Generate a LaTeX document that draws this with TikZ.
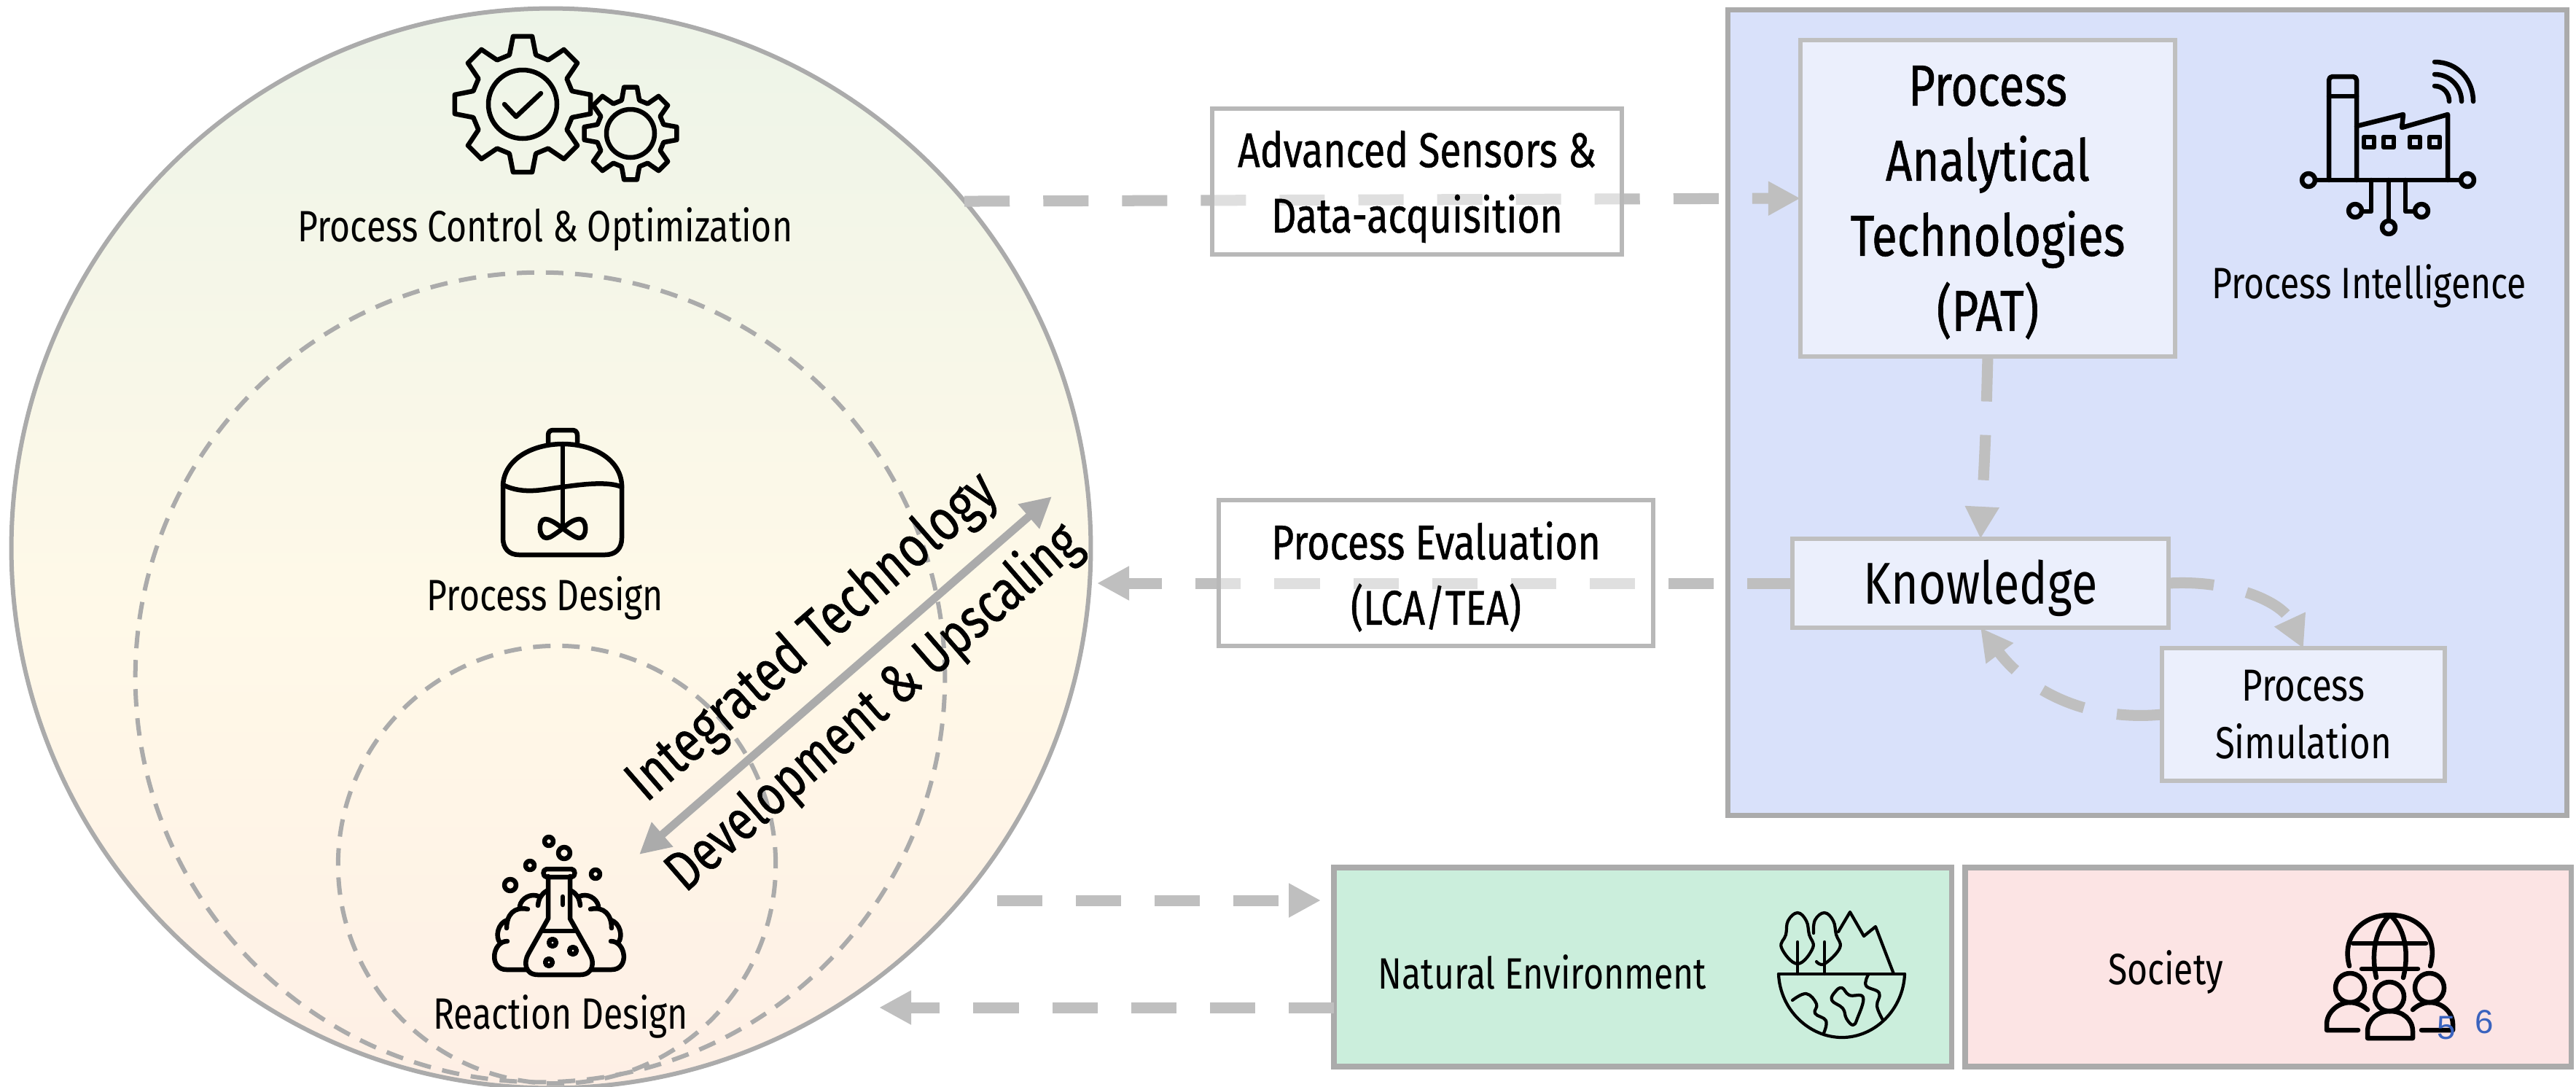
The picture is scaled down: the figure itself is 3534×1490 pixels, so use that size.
\documentclass[tikz,border=0pt]{standalone}
\usepackage{fontspec}
\setmainfont[FakeStretch=0.8]{Fira Sans}
\newfontfamily\medfont[FakeStretch=0.8,FakeBold=0.7]{Fira Sans}
\newfontfamily\numfont{Liberation Sans}
\usepackage{tikz}
\usetikzlibrary{calc}
\usetikzlibrary{arrows.meta}
\definecolor{edgegray}{RGB}{171, 171, 171}
\definecolor{linkgray}{RGB}{191, 191, 191}
\definecolor{leaf}{RGB}{237, 244, 232}
\definecolor{cream}{RGB}{255, 249, 232}
\definecolor{peach}{RGB}{254, 239, 229}
\definecolor{intelblue}{RGB}{217, 225, 250}
\definecolor{palebox}{RGB}{235, 239, 252}
\definecolor{natgreen}{RGB}{203, 238, 220}
\definecolor{socpink}{RGB}{252, 228, 228}
\definecolor{pagenum}{RGB}{58, 99, 190}
\pgfdeclareverticalshading{stagefade}{100bp}{color(0bp)=(peach); color(25bp)=(peach); color(47bp)=(cream); color(75bp)=(leaf); color(100bp)=(leaf)}
\tikzset{
    textsmall/.style={inner sep=0pt, align=center, font=\fontsize{17.1}{24}\selectfont},
    textmed/.style={inner sep=0pt, align=center, font=\medfont\fontsize{19}{25.5}\selectfont},
    bigbox/.style={draw=edgegray, line width=0.075cm, inner sep=0pt, outer sep=0pt},
    smallbox/.style={draw=linkgray, fill=palebox, line width=0.06cm, inner sep=0pt, outer sep=0pt},
    whitebox/.style={draw=edgegray!85, fill=white, fill opacity=0.5, text opacity=1, line width=0.06cm, inner sep=0pt, outer sep=0pt},
    dashring/.style={circle, draw=edgegray, line width=0.06cm, dash pattern=on 0.24cm off 0.16cm, inner sep=0pt, outer sep=0pt},
    linkline/.style={draw=linkgray, line width=0.15cm, dash pattern=on 0.62cm off 0.46cm, -{Triangle[length=0.44cm,width=0.44cm]}},
    iconline/.style={draw=black, line width=0.065cm, line join=round, line cap=round},
    iconthin/.style={draw=black, line width=0.042cm, line join=round, line cap=round},
}
\newcommand{\drawgear}[3]{%
    \draw[iconline] (75:#2) foreach \a in {90,135,...,405} { -- (\a-15:#2) -- (\a-8:#3) -- (\a+8:#3) -- (\a+15:#2) } -- cycle;
    \draw[iconline] (0,0) circle (#1);
}
\begin{document}
\begin{tikzpicture}[x=0.01cm, y=-0.01cm]
    \useasboundingbox (0,0) rectangle (3534,1490);
    % Large circle & nested stages
    \node[circle, draw=edgegray, line width=0.06cm, shade, shading=stagefade,
          minimum size=14.8cm, inner sep=0pt, outer sep=0pt] (bigcircle) at (756,752) {};
    \node[dashring, minimum size=11.1cm] (designring)   at (741, 929) {};
    \node[dashring, minimum size=6.0cm]  (reactionring) at (764,1186) {};
    \node[textsmall] (controltext)  at (748, 314) {Process Control \& Optimization};
    \node[textsmall] (designtext)   at (748, 820) {Process Design};
    \node[textsmall] (reactiontext) at (769,1394) {Reaction Design};
    % Process intelligence
    \node[bigbox, fill=intelblue, minimum width=11.5cm, minimum height=11.04cm] (intelbox) at (2946,566) {};
    \node[smallbox, font=\medfont\fontsize{22.6}{29.3}\selectfont, text depth=0pt, align=center, minimum width=5.14cm, minimum height=4.33cm] (pat) at (2727,272)
        {Process\\Analytical\\Technologies\\(PAT)};
    \node[smallbox, minimum width=5.16cm, minimum height=1.22cm] (knowledge) at (2717,800) {};
    \node[inner sep=0pt, font=\fontsize{23}{25}\selectfont] (knowledgetext) at (2717,807) {Knowledge};
    \node[smallbox, font=\fontsize{17.5}{22.5}\selectfont, align=center, minimum width=3.88cm, minimum height=1.81cm] (simulation) at (3160,980)
        {Process\\Simulation};
    \node[textsmall] (inteltext) at (3250,392) {Process Intelligence};
    % Boxes along the bottom
    \node[bigbox, fill=natgreen, minimum width=8.47cm, minimum height=2.73cm] (natural) at (2253.5,1326.5) {};
    \node[bigbox, fill=socpink,  minimum width=8.31cm, minimum height=2.73cm] (society) at (3111.5,1326.5) {};
    \node[textsmall] (naturaltext) at (2116,1333) {Natural Environment};
    \node[textsmall] (societytext) at (2971,1333) {Society};
    % Dashed links
    \coordinate (lowout)  at (1368,1235);
    \coordinate (lowin)   at (1812,1235);
    \coordinate (backout) at (1206,1382);
    \coordinate (evalin)  at (1505, 800);
    \draw[linkline] (bigcircle.40.7) -- (pat.west);
    \draw[linkline] (knowledge.west) -- (evalin);
    \draw[linkline] (pat.south) .. controls (2724,600) .. (knowledge.north);
    \draw[linkline] (knowledge.east) .. controls (3060,795) and (3130,825) .. (simulation.north);
    \draw[linkline] (simulation.west) .. controls (2860,990) and (2780,945) .. (knowledge.south);
    \draw[linkline] (lowout) -- (lowin);
    \draw[linkline] (natural.west |- backout) -- (backout);
    % Boxes over the links
    \node[whitebox, textmed, text depth=0pt, minimum width=5.62cm, minimum height=2.0cm] (sensors) at (1944,249)
        {Advanced Sensors \&\\Data-acquisition};
    \node[whitebox, textmed, text depth=0pt, minimum width=5.95cm, minimum height=1.99cm] (evaluation) at (1970,786)
        {Process Evaluation\\(LCA/TEA)};
    % Scale-up arrow
    \coordinate (scaletop) at (1443, 681);
    \coordinate (scalelow) at (877,1172);
    \draw[draw=edgegray, line width=0.11cm, {Triangle[length=0.42cm,width=0.42cm]}-{Triangle[length=0.42cm,width=0.42cm]}] (scalelow) -- (scaletop)
        node[midway, sloped, yshift=0.68cm, font=\medfont\fontsize{22.7}{24}\selectfont, inner sep=0pt] (scaleup) {Integrated Technology}
        node[midway, sloped, yshift=-0.6cm, font=\medfont\fontsize{22}{24}\selectfont, inner sep=0pt] (scaledown) {Development \& Upscaling};
    % Gears
    \begin{scope}[shift={(717,143)}]
        \drawgear{47}{70}{94}
        \draw[iconline] (-25,0) -- (-9,17) -- (25,-15);
    \end{scope}
    \begin{scope}[shift={(865,183)}]
        \drawgear{33}{47}{64}
    \end{scope}
    % Reactor
    \draw[iconline] (690,665) .. controls (692,630) and (730,609) .. (772,609) .. controls (814,609) and (851,630) .. (853,665)
        -- (853,738) .. controls (853,752) and (845,761) .. (830,761) -- (712,761) .. controls (698,761) and (690,752) .. (690,738) -- cycle;
    \draw[iconline] (752,607) -- (752,597) .. controls (752,592) and (755,590) .. (759,590) -- (785,590) .. controls (789,590) and (792,592) .. (792,597) -- (792,607);
    \draw[iconline] (772,609) -- (772,725);
    \draw[iconline] (690,665) .. controls (720,680) and (750,670) .. (772,668) .. controls (800,664) and (835,660) .. (853,668);
    \draw[iconline] (772,725) .. controls (760,715) and (752,712) .. (748,712) .. controls (738,712) and (738,738) .. (750,738) .. controls (755,738) and (762,732) .. (772,725)
        .. controls (782,715) and (790,712) .. (795,712) .. controls (806,712) and (806,738) .. (795,738) .. controls (790,738) and (782,732) .. (772,725);
    % Factory
    \draw[iconline] (3195,247) -- (3195,110) .. controls (3195,107) and (3197,105) .. (3200,105) -- (3228,105) .. controls (3231,105) and (3233,107) .. (3233,110) -- (3233,247);
    \draw[iconline] (3195,132) -- (3233,132);
    \draw[iconline] (3233,173) -- (3297,157) -- (3295,175) -- (3358,157) -- (3358,247);
    \foreach \wx in {3250,3277,3313,3340} {
        \draw[iconline] (\wx-7,188) rectangle (\wx+7,202);
    }
    \draw[iconline] (3176,247) -- (3376,247);
    \draw[iconline] (3167,247) circle (9);
    \draw[iconline] (3385,247) circle (9);
    \draw[iconline] (3253,247) -- (3253,290) -- (3240,290);
    \draw[iconline] (3231,289) circle (9);
    \draw[iconline] (3277,247) -- (3277,303);
    \draw[iconline] (3277,312) circle (9);
    \draw[iconline] (3300,247) -- (3300,290) -- (3313,290);
    \draw[iconline] (3322,289) circle (9);
    \draw[iconline] (3340,118) .. controls (3352,118) and (3360,128) .. (3360,139);
    \draw[iconline] (3340,102) .. controls (3362,102) and (3377,120) .. (3377,139);
    \draw[iconline] (3340,85) .. controls (3372,85) and (3393,110) .. (3393,139);
    % Flask & brain
    \draw[iconline] (752,1202) -- (752,1260) -- (725,1308) .. controls (718,1320) and (720,1337) .. (738,1337) -- (796,1337) .. controls (814,1337) and (816,1320) .. (809,1308) -- (782,1260) -- (782,1202);
    \draw[iconline] (750,1192) -- (784,1192) .. controls (790,1192) and (790,1203) .. (784,1203) -- (750,1203) .. controls (744,1203) and (744,1192) .. (750,1192);
    \draw[iconline] (746,1277) -- (788,1277);
    \draw[iconline] (772,1230) -- (772,1241);
    \foreach \bx/\by/\br in {753/1154/6,774/1170/8,727/1187/6,817/1199/6,700/1214/8,758/1293/5,786/1304/5,753/1320/5} {
        \draw[iconline] (\bx,\by) circle (\br);
    }
    \foreach \side/\axis in {1/767,-1/767} {
        \begin{scope}[shift={(\axis,0)}, xscale=\side]
            \draw[iconline] (-17,1222) .. controls (-24,1226) and (-28,1232) .. (-29,1242);
            \draw[iconline] (-27,1230) .. controls (-38,1224) and (-52,1232) .. (-54,1243);
            \draw[iconline] (-43,1247) .. controls (-62,1243) and (-72,1255) .. (-72,1273);
            \draw[iconline] (-71,1262) .. controls (-84,1266) and (-88,1285) .. (-81,1293);
            \draw[iconline] (-71,1291) .. controls (-92,1291) and (-97,1330) .. (-72,1330) -- (-45,1330);
        \end{scope}
    }
    % Earth
    \draw[iconthin] (2440,1336) -- (2613,1336);
    \draw[iconthin] (2440,1336) .. controls (2442,1385) and (2482,1423) .. (2527,1423) .. controls (2572,1423) and (2611,1385) .. (2613,1336);
    \draw[iconthin] (2466,1336) -- (2466,1292);
    \draw[iconthin] (2503,1336) -- (2503,1292);
    \draw[iconthin] plot[smooth cycle, tension=0.7] coordinates {(2466,1252) (2478,1263) (2482,1282) (2487,1300) (2466,1322) (2444,1300) (2450,1282) (2453,1263)};
    \draw[iconthin] plot[smooth, tension=0.7] coordinates {(2488,1280) (2490,1262) (2503,1252) (2515,1263) (2519,1282) (2524,1300) (2503,1322) (2492,1319)};
    \draw[iconthin] (2522,1278) -- (2538,1251) -- (2557,1284) -- (2573,1271) -- (2598,1336);
    \draw[iconthin] plot[smooth, tension=0.7] coordinates {(2459,1372) (2478,1363) (2492,1377) (2490,1390) (2505,1400) (2502,1417)};
    \draw[iconthin] plot[smooth cycle, tension=0.7] coordinates {(2527,1355) (2537,1365) (2556,1368) (2548,1397) (2542,1406) (2533,1397) (2528,1383) (2513,1372) (2518,1360)};
    \draw[iconthin] plot[smooth, tension=0.7] coordinates {(2563,1337) (2560,1352) (2578,1362) (2575,1380) (2583,1399)};
    % Globe & people
    \draw[iconline] (3223,1325) .. controls (3212,1285) and (3240,1255) .. (3279,1255) .. controls (3318,1255) and (3346,1285) .. (3334,1325);
    \draw[iconline] (3260,1341) .. controls (3252,1305) and (3260,1272) .. (3279,1255) .. controls (3298,1272) and (3306,1305) .. (3297,1341);
    \draw[iconline] (3228,1294) -- (3328,1294);
    \draw[iconline] (3240,1329) -- (3317,1329);
    \draw[iconline] (3278,1367) circle (20);
    \draw[iconline] (3248,1424) -- (3248,1415) .. controls (3248,1398) and (3262,1387) .. (3279,1387) .. controls (3296,1387) and (3310,1398) .. (3310,1415) -- (3310,1424) -- cycle;
    \draw[iconline] (3224,1355) circle (20);
    \draw[iconline] (3235,1413) -- (3192,1413) -- (3192,1405) .. controls (3192,1388) and (3208,1375) .. (3224,1375) .. controls (3233,1375) and (3243,1380) .. (3248,1385);
    \draw[iconline] (3333,1355) circle (20);
    \draw[iconline] (3322,1413) -- (3365,1413) -- (3365,1405) .. controls (3365,1388) and (3350,1375) .. (3333,1375) .. controls (3324,1375) and (3315,1380) .. (3310,1385);
    % Stray numerals
    \node[inner sep=0pt, font=\numfont\fontsize{13}{16}\selectfont, text=pagenum] (numfive) at (3356,1410) {5};
    \node[inner sep=0pt, font=\numfont\fontsize{13}{16}\selectfont, text=pagenum] (numsix)  at (3408,1402) {6};
\end{tikzpicture}
\end{document}
